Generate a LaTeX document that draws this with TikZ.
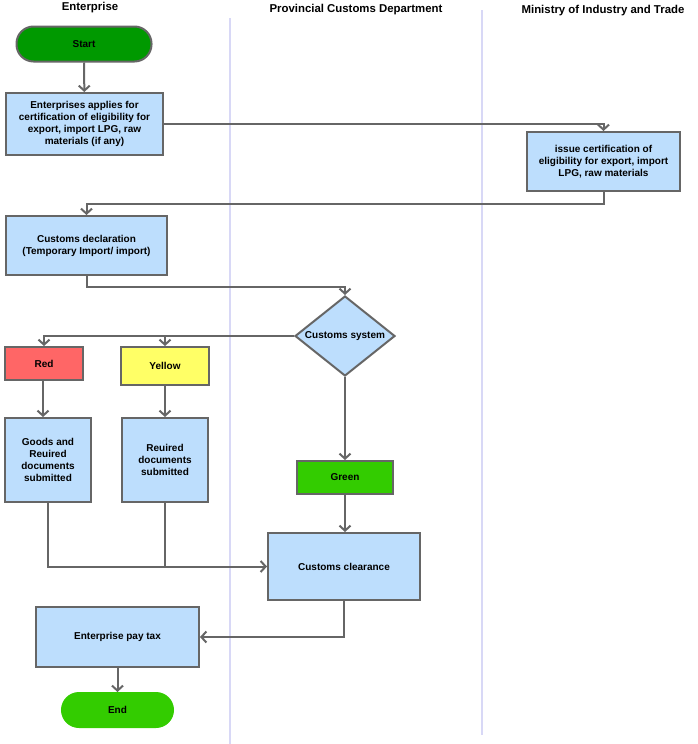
\documentclass[tikz,border=0pt]{standalone}
\usepackage{fontspec}
\setmainfont{Liberation Sans}
\usetikzlibrary{arrows.meta,shapes.geometric,calc}
\definecolor{boxblue}{RGB}{189,222,253}
\definecolor{edgegray}{RGB}{102,102,102}
\definecolor{lanecol}{RGB}{216,216,246}
\definecolor{startgreen}{RGB}{0,153,0}
\definecolor{okgreen}{RGB}{51,204,0}
\definecolor{redfill}{RGB}{255,102,102}
\definecolor{yellowfill}{RGB}{255,255,102}
\tikzset{>={Straight Barb[length=5pt,width=11pt]}}
\tikzset{
  procbox/.style={rectangle, draw=edgegray, fill=boxblue, line width=2pt, align=center, inner sep=0pt, font=\fontsize{10}{12}\selectfont\bfseries},
  termbox/.style={procbox, rounded corners=17pt},
  decision/.style={procbox, diamond, aspect=1.25, minimum width=100pt, minimum height=80pt},
  lanehead/.style={font=\fontsize{11.4}{13}\selectfont\bfseries, inner sep=0pt},
  flow/.style={draw=edgegray, line width=2pt, ->},
  lane/.style={draw=lanecol, line width=1.2pt}
}

\begin{document}
\begin{tikzpicture}[x=1pt,y=-1pt]
	\useasboundingbox (0,0) rectangle (697,744);
	% lanes
	\draw[lane] (230,18) -- (230,744);
	\draw[lane] (482,10) -- (482,735);
	\node[lanehead] (hent) at (90,8) {Enterprise};
	\node[lanehead] (hcus) at (356,9.5) {Provincial Customs Department};
	\node[lanehead] (hmin) at (603,11) {Ministry of Industry and Trade};
	% nodes
	\node[termbox, fill=startgreen, minimum width=135pt, minimum height=35pt] (start) at (84,44) {Start};
	\node[procbox, minimum width=157pt, minimum height=62pt] (apply) at (84.5,124) {Enterprises applies for\\certification of eligibility for\\export, import LPG, raw\\materials (if any)};
	\node[procbox, minimum width=153pt, minimum height=59pt] (issue) at (603.5,161.5) {issue certification of\\eligibility for export, import\\LPG, raw materials};
	\node[procbox, minimum width=161pt, minimum height=59pt] (decl) at (86.5,245.5) {Customs declaration\\(Temporary Import/ import)};
	\node[decision] (system) at (345,336) {Customs system};
	\node[procbox, fill=redfill, minimum width=78pt, minimum height=33pt] (red) at (44,363.5) {Red};
	\node[procbox, fill=yellowfill, minimum width=88pt, minimum height=38pt] (yellow) at (165,366) {Yellow};
	\node[procbox, minimum width=86pt, minimum height=84pt] (goods) at (48,460) {Goods and\\Reuired\\documents\\submitted};
	\node[procbox, minimum width=86pt, minimum height=84pt] (reuired) at (165,460) {Reuired\\documents\\submitted};
	\node[procbox, fill=okgreen, minimum width=96pt, minimum height=33pt] (green) at (345,477.5) {Green};
	\node[procbox, minimum width=152pt, minimum height=67pt] (clear) at (344,566.5) {Customs clearance};
	\node[procbox, minimum width=163pt, minimum height=60pt] (paytax) at (117.5,637) {Enterprise pay tax};
	\node[termbox, fill=okgreen, draw=okgreen, minimum width=111pt, minimum height=34pt] (endnode) at (117.5,710) {End};
	% connectors
	\draw[flow] (start) -- (apply);
	\draw[flow] (apply.east) -| (issue.north);
	\draw[flow] (issue.south) -- ++(0,12) -| (decl.north);
	\draw[flow] (decl.south) -- ++(0,11) -| (system.north);
	\draw[flow] (system.west) -| (red.north);
	\draw[flow] (system.west) -| (yellow.north);
	\draw[flow] ($(red.south)+(-1,0)$) -- ($(red.south |- goods.north)+(-1,0)$);
	\draw[flow] (yellow) -- (reuired);
	\draw[flow] (system) -- (green);
	\draw[flow] (green.south) -- (green.south |- clear.north);
	\draw[flow] (goods.south) |- (clear.west);
	\draw[flow, -] (reuired.south) -- (reuired.south |- clear.west);
	\draw[flow] (clear.south) |- (paytax.east);
	\draw[flow] (paytax) -- (endnode);
\end{tikzpicture}
\end{document}
